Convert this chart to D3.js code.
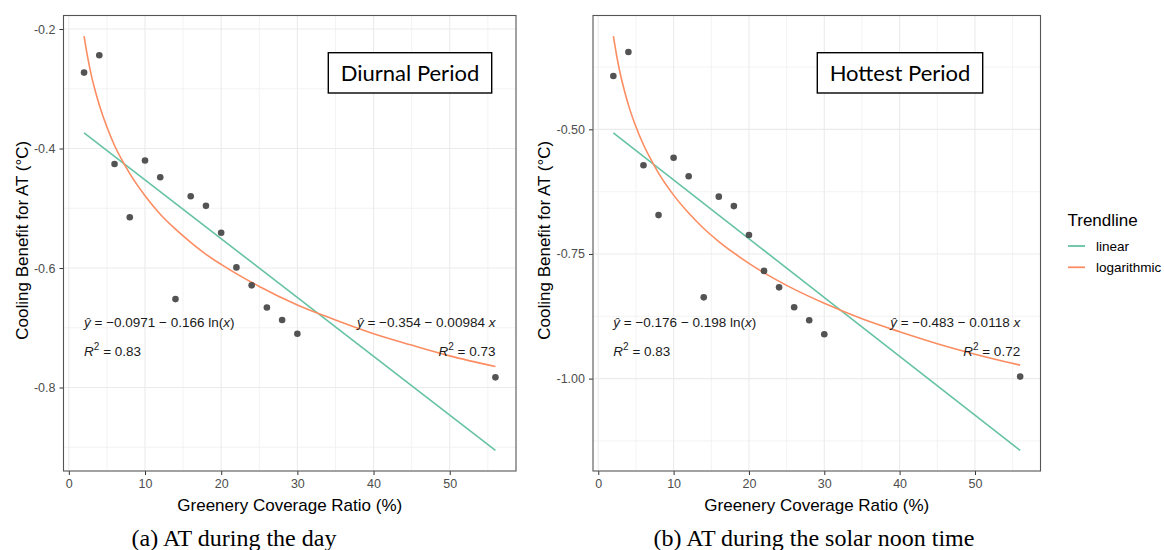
<!DOCTYPE html>
<html>
<head>
<meta charset="utf-8">
<script src="https://cdn.jsdelivr.net/npm/d3@7"></script>
<style>
  html, body { margin: 0; padding: 0; background: #ffffff; }
  svg { display: block; }
</style>
</head>
<body>
<svg id="chart" width="1164" height="550"></svg>
<script>
// ---------------- DATA ----------------
const greeneryRatio = [2, 4, 6, 8, 10, 12, 14, 16, 18, 20, 22, 24, 26, 28, 30, 56];

// (a) Diurnal period – cooling benefit for AT (°C)
const diurnalBenefit = [-0.273, -0.244, -0.426, -0.515, -0.420, -0.448, -0.652, -0.480,
                        -0.496, -0.541, -0.599, -0.629, -0.666, -0.687, -0.710, -0.783];
// (b) Hottest period – cooling benefit for AT (°C)
const hottestBenefit = [-0.393, -0.345, -0.572, -0.672, -0.557, -0.594, -0.837, -0.635,
                        -0.654, -0.712, -0.784, -0.817, -0.857, -0.883, -0.911, -0.996];

// Trendline samples
const logTrendX        = [2, 2.5, 3, 3.5, 4, 5, 6, 7, 8, 10, 12, 14, 16, 18, 20, 25, 30, 35, 40, 45, 50, 56];
const diurnalLogTrend  = [-0.212, -0.249, -0.280, -0.305, -0.327, -0.364, -0.395, -0.420, -0.442, -0.479, -0.510,
                          -0.535, -0.557, -0.577, -0.594, -0.631, -0.662, -0.687, -0.710, -0.729, -0.747, -0.765];
const hottestLogTrend  = [-0.313, -0.357, -0.394, -0.424, -0.451, -0.495, -0.531, -0.561, -0.588, -0.632, -0.668,
                          -0.699, -0.725, -0.748, -0.769, -0.813, -0.849, -0.880, -0.906, -0.930, -0.951, -0.973];
const linTrendX        = [2, 56];
const diurnalLinTrend  = [-0.374, -0.905];
const hottestLinTrend  = [-0.507, -1.144];

// Tick labels
const xTicks        = [0, 10, 20, 30, 40, 50];
const xMinorTicks   = [5, 15, 25, 35, 45, 55];
const diurnalYTicks = [-0.2, -0.4, -0.6, -0.8];
const diurnalYMinor = [-0.3, -0.5, -0.7, -0.9];
const hottestYTicks = [-0.50, -0.75, -1.00];
const hottestYMinor = [-0.375, -0.625, -0.875, -1.125];

// Texts
const panelTitles   = ["Diurnal Period", "Hottest Period"];
const captions      = ["(a) AT during the day", "(b) AT during the solar noon time"];
const logEquations  = [["−0.0971", "0.166"], ["−0.176", "0.198"]];
const linEquations  = [["−0.354", "0.00984"], ["−0.483", "0.0118"]];
const logR2         = ["0.83", "0.83"];
const linR2         = ["0.73", "0.72"];
const legendTitle   = "Trendline";
const legendLabels  = ["linear", "logarithmic"];

// ---------------- STYLE ----------------
const COL_LINEAR = "#66c2a5";
const COL_LOG    = "#fc8d62";
const SANS  = "'Liberation Sans', Arial, sans-serif";
const SERIF = "'Liberation Serif', 'Times New Roman', serif";

const svg = d3.select("#chart");

function drawPanel(p) {
  const g = svg.append("g");
  const x = d3.scaleLinear().domain([-0.7, 58.7]).range([p.left, p.right]);
  const y = d3.scaleLinear().domain(p.yDomain).range([p.bottom, p.top]);

  // grid - minor
  g.selectAll(".vminor").data(xMinorTicks).join("line")
    .attr("x1", d => x(d)).attr("x2", d => x(d))
    .attr("y1", p.top).attr("y2", p.bottom)
    .attr("stroke", "#f0f0f0").attr("stroke-width", 0.8);
  g.selectAll(".hminor").data(p.yMinor).join("line")
    .attr("x1", p.left).attr("x2", p.right)
    .attr("y1", d => y(d)).attr("y2", d => y(d))
    .attr("stroke", "#f0f0f0").attr("stroke-width", 0.8);
  // grid - major
  g.selectAll(".vmajor").data(xTicks).join("line")
    .attr("x1", d => x(d)).attr("x2", d => x(d))
    .attr("y1", p.top).attr("y2", p.bottom)
    .attr("stroke", "#ebebeb").attr("stroke-width", 1.1);
  g.selectAll(".hmajor").data(p.yTicks).join("line")
    .attr("x1", p.left).attr("x2", p.right)
    .attr("y1", d => y(d)).attr("y2", d => y(d))
    .attr("stroke", "#ebebeb").attr("stroke-width", 1.1);

  // axes
  const xAxis = d3.axisBottom(x).tickValues(xTicks).tickSize(4).tickPadding(4).tickFormat(d3.format("d"));
  const yAxis = d3.axisLeft(y).tickValues(p.yTicks).tickSize(4).tickPadding(4)
                 .tickFormat(d => d3.format(p.yFormat)(d).replace("−", "-"));
  const gx = g.append("g").attr("transform", `translate(0,${p.bottom})`).call(xAxis);
  const gy = g.append("g").attr("transform", `translate(${p.left},0)`).call(yAxis);
  [gx, gy].forEach(a => {
    a.select(".domain").remove();
    a.selectAll(".tick line").attr("stroke", "#333333").attr("stroke-width", 1);
    a.selectAll(".tick text").attr("fill", "#4d4d4d").style("font-family", SANS).style("font-size", "12.5px");
  });

  // trendlines
  const line = d3.line().x(d => x(d[0])).y(d => y(d[1])).curve(d3.curveMonotoneX);
  g.append("path").datum(linTrendX.map((v, i) => [v, p.lin[i]]))
    .attr("d", line).attr("fill", "none").attr("stroke", COL_LINEAR).attr("stroke-width", 1.6);
  g.append("path").datum(logTrendX.map((v, i) => [v, p.log[i]]))
    .attr("d", line).attr("fill", "none").attr("stroke", COL_LOG).attr("stroke-width", 1.6);

  // points
  g.selectAll(".pt").data(greeneryRatio.map((v, i) => [v, p.values[i]])).join("circle")
    .attr("cx", d => x(d[0])).attr("cy", d => y(d[1])).attr("r", 3.3)
    .attr("fill", "#4a4a4a").attr("fill-opacity", 0.95);

  // panel border
  g.append("rect").attr("x", p.left).attr("y", p.top)
    .attr("width", p.right - p.left).attr("height", p.bottom - p.top)
    .attr("fill", "none").attr("stroke", "#555555").attr("stroke-width", 1.1);

  // equations
  const eqStyle = s => s.style("font-family", SANS).style("font-size", "13.5px").attr("fill", "#1a1a1a");
  function equation(xPos, yPos, anchor, coef, tail) {
    const t = g.append("text").attr("x", xPos).attr("y", yPos).attr("text-anchor", anchor).call(eqStyle);
    t.append("tspan").style("font-style", "italic").text("ŷ");
    t.append("tspan").text(` = ${coef[0]} − ${coef[1]} `);
    if (tail === "ln") {
      t.append("tspan").text("ln(");
      t.append("tspan").style("font-style", "italic").text("x");
      t.append("tspan").text(")");
    } else {
      t.append("tspan").style("font-style", "italic").text("x");
    }
  }
  function r2(xPos, yPos, anchor, val) {
    const t = g.append("text").attr("x", xPos).attr("y", yPos).attr("text-anchor", anchor).call(eqStyle);
    t.append("tspan").style("font-style", "italic").text("R");
    t.append("tspan").attr("dy", -6).style("font-size", "10px").text("2");
    t.append("tspan").attr("dy", 6).text(" = " + val);
  }
  equation(x(2), p.eqY, "start", p.logEq, "ln");
  r2(x(2), p.eqY + 29, "start", p.logR2);
  equation(x(56), p.eqY, "end", p.linEq, "x");
  r2(x(56), p.eqY + 29, "end", p.linR2);

  // title box
  const tb = g.append("g");
  tb.append("rect").attr("x", p.boxX).attr("y", 52.7).attr("width", p.boxW).attr("height", 40.3)
    .attr("fill", "#ffffff").attr("stroke", "#000000").attr("stroke-width", 1.4);
  tb.append("text").attr("x", p.boxX + p.boxW / 2).attr("y", 81)
    .attr("text-anchor", "middle").style("font-family", "Lato, 'Open Sans', sans-serif")
    .style("font-size", "22px").attr("fill", "#000").text(p.title);

  // axis titles
  g.append("text").attr("x", (p.left + p.right) / 2).attr("y", 510.5).attr("text-anchor", "middle")
    .style("font-family", SANS).style("font-size", "17px").attr("fill", "#000")
    .text("Greenery Coverage Ratio (%)");
  g.append("text").attr("transform", `translate(${p.yTitleX},${(p.top + p.bottom) / 2 - 3}) rotate(-90)`)
    .attr("text-anchor", "middle")
    .style("font-family", SANS).style("font-size", "17px").attr("fill", "#000")
    .text("Cooling Benefit for AT (°C)");

  // caption
  g.append("text").attr("x", p.captionX).attr("y", 546).attr("text-anchor", "middle")
    .style("font-family", SERIF).style("font-size", "24px").attr("fill", "#000").text(p.caption);
}

drawPanel({
  left: 63.5, right: 516, top: 15.5, bottom: 471,
  yDomain: [-0.9397, -0.1774], yTicks: diurnalYTicks, yMinor: diurnalYMinor, yFormat: ".1f",
  values: diurnalBenefit, lin: diurnalLinTrend, log: diurnalLogTrend,
  logEq: logEquations[0], linEq: linEquations[0], logR2: logR2[0], linR2: linR2[0],
  eqY: 326.5, title: panelTitles[0], boxX: 328.3, boxW: 163.4,
  yTitleX: 28, caption: captions[0], captionX: 234
});
drawPanel({
  left: 593, right: 1040.5, top: 15.5, bottom: 471,
  yDomain: [-1.1853, -0.2717], yTicks: hottestYTicks, yMinor: hottestYMinor, yFormat: ".2f",
  values: hottestBenefit, lin: hottestLinTrend, log: hottestLogTrend,
  logEq: logEquations[1], linEq: linEquations[1], logR2: logR2[1], linR2: linR2[1],
  eqY: 326.5, title: panelTitles[1], boxX: 817.3, boxW: 165.4,
  yTitleX: 550, caption: captions[1], captionX: 814
});

// legend
const lg = svg.append("g");
lg.append("text").attr("x", 1067.5).attr("y", 226).style("font-family", SANS).style("font-size", "17px")
  .attr("fill", "#000").text(legendTitle);
const legendColors = [COL_LINEAR, COL_LOG];
lg.selectAll(".key").data(legendLabels).join("line")
  .attr("x1", 1068).attr("x2", 1085)
  .attr("y1", (d, i) => 246 + i * 21.3).attr("y2", (d, i) => 246 + i * 21.3)
  .attr("stroke", (d, i) => legendColors[i]).attr("stroke-width", 1.8);
lg.selectAll(".lbl").data(legendLabels).join("text")
  .attr("x", 1096).attr("y", (d, i) => 246 + i * 21.3).attr("dy", "0.35em")
  .style("font-family", SANS).style("font-size", "13.5px").attr("fill", "#000").text(d => d);
</script>
</body>
</html>
